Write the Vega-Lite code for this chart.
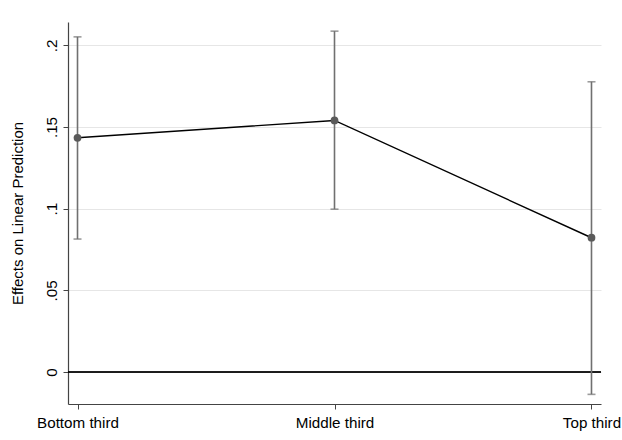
{
  "$schema": "https://vega.github.io/schema/vega-lite/v6.json",
  "autosize": "none",
  "width": 533,
  "height": 382,
  "padding": {"left": 68, "top": 22, "right": 21, "bottom": 36},
  "background": "white",
  "config": {
    "view": {"stroke": null},
    "font": "Liberation Sans",
    "axis": {"labelFont": "Liberation Sans", "titleFont": "Liberation Sans", "labelColor": "#000", "titleColor": "#000", "titleFontWeight": "normal"}
  },
  "data": {
    "values": [
      {"cat": "Bottom third", "est": 0.1434, "lo": 0.0814, "hi": 0.2052},
      {"cat": "Middle third", "est": 0.1540, "lo": 0.0997, "hi": 0.2087},
      {"cat": "Top third", "est": 0.0822, "lo": -0.0137, "hi": 0.1777}
    ]
  },
  "encoding": {
    "x": {
      "field": "cat", "type": "ordinal", "sort": null,
      "scale": {"type": "point", "padding": 0.037},
      "axis": {"title": null, "labelAngle": 0, "labelFontSize": 15.2, "labelPadding": 6, "tickSize": 5, "tickColor": "#444", "domainColor": "#444", "domainWidth": 1.2, "grid": false}
    }
  },
  "layer": [
    {
      "mark": {"type": "rule", "color": "#000", "strokeWidth": 1.2},
      "encoding": {
        "y": {"datum": 0, "type": "quantitative"},
        "x": null
      }
    },
    {
      "mark": {"type": "rule", "color": "#707070", "strokeWidth": 1.6},
      "encoding": {
        "y": {
          "field": "lo", "type": "quantitative",
          "scale": {"domain": [-0.0196, 0.2143], "nice": false, "zero": false},
          "axis": {
            "title": "Effects on Linear Prediction",
            "titleFontSize": 15,
            "titlePadding": 19,
            "values": [0, 0.05, 0.1, 0.15, 0.2],
            "labelExpr": "datum.value == 0 ? '0' : slice(format(datum.value, '.2~f'), 1)",
            "labelAngle": -90,
            "labelAlign": "center",
            "labelBaseline": "bottom",
            "labelFontSize": 15.2,
            "labelPadding": 4,
            "tickSize": 5,
            "tickColor": "#444",
            "domainColor": "#444",
            "domainWidth": 1.2,
            "grid": true,
            "gridColor": "#e6e6e6",
            "gridWidth": 1
          }
        },
        "y2": {"field": "hi"}
      }
    },
    {
      "mark": {"type": "tick", "color": "#707070", "thickness": 1.6, "size": 8, "orient": "horizontal"},
      "encoding": {"y": {"field": "lo", "type": "quantitative"}}
    },
    {
      "mark": {"type": "tick", "color": "#707070", "thickness": 1.6, "size": 8, "orient": "horizontal"},
      "encoding": {"y": {"field": "hi", "type": "quantitative"}}
    },
    {
      "mark": {"type": "line", "color": "#000", "strokeWidth": 1.4},
      "encoding": {"y": {"field": "est", "type": "quantitative"}}
    },
    {
      "mark": {"type": "circle", "color": "#5a5a5a", "size": 60, "opacity": 1},
      "encoding": {"y": {"field": "est", "type": "quantitative"}}
    }
  ]
}
